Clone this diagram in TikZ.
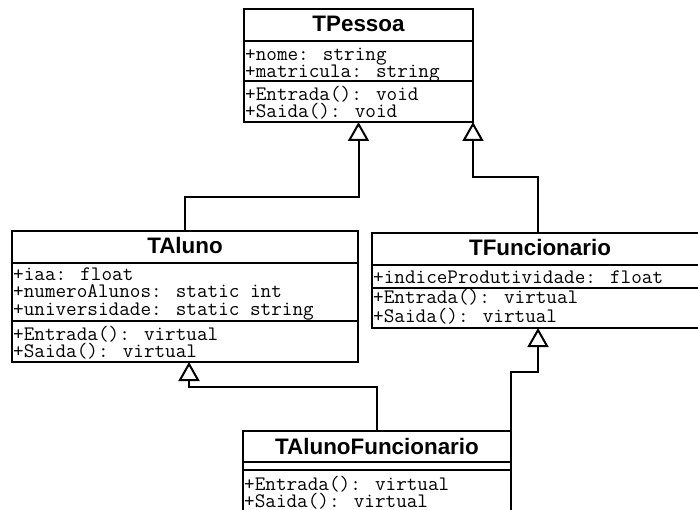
\documentclass[tikz,border=0pt]{standalone}
\usepackage{fontspec}
\newfontfamily\classfont{Liberation Sans}
\usetikzlibrary{arrows.meta}
\begin{document}
\begin{tikzpicture}[x=1pt,y=-1pt,
  classbox/.style={draw, line width=2pt, anchor=north west, inner sep=0pt, outer sep=0pt},
  divider/.style={line width=2pt},
  classname/.style={anchor=base, inner sep=0pt, font=\classfont\bfseries\fontsize{22.4}{26}\selectfont},
  member/.style={anchor=base west, inner sep=0pt, text height=12pt, text depth=2.5pt,
    font=\ttfamily\fontsize{20.6}{22}\selectfont},
  inherits/.style={line width=2pt, -{Triangle[open, length=19pt, width=21pt, fill=white]}}]
\clip (0,0) rectangle (698,510);

% TPessoa
\node[classbox, minimum width=229pt, minimum height=113pt] (pessoa) at (244,9) {};
\draw[divider] (pessoa.west |- 0,41) -- (pessoa.east |- 0,41);
\draw[divider] (pessoa.west |- 0,81) -- (pessoa.east |- 0,81);
\node[classname] (pessoaname) at (358.5,32) {TPessoa};
\node[member] (pessoaa1) at (245,61) {+nome: string};
\node[member] (pessoaa2) at (245,78) {+matricula: string};
\node[member] (pessoam1) at (245,101) {+Entrada(): void};
\node[member] (pessoam2) at (245,118) {+Saida(): void};

% TAluno
\node[classbox, minimum width=346pt, minimum height=131pt] (aluno) at (12,231) {};
\draw[divider] (aluno.west |- 0,263) -- (aluno.east |- 0,263);
\draw[divider] (aluno.west |- 0,321) -- (aluno.east |- 0,321);
\node[classname] (alunoname) at (185,254) {TAluno};
\node[member] (alunoa1) at (13,281) {+iaa: float};
\node[member] (alunoa2) at (13,298) {+numeroAlunos: static int};
\node[member] (alunoa3) at (13,316) {+universidade: static string};
\node[member] (alunom1) at (13,340) {+Entrada(): virtual};
\node[member] (alunom2) at (13,357) {+Saida(): virtual};

% TFuncionario
\node[classbox, minimum width=332pt, minimum height=95pt] (func) at (372,233) {};
\draw[divider] (func.west |- 0,265) -- (func.east |- 0,265);
\draw[divider] (func.west |- 0,288) -- (func.east |- 0,288);
\node[classname] (funcname) at (540,256) {TFuncionario};
\node[member] (funca1) at (373,284) {+indiceProdutividade: float};
\node[member] (funcm1) at (373,304) {+Entrada(): virtual};
\node[member] (funcm2) at (373,322) {+Saida(): virtual};

% TAlunoFuncionario
\node[classbox, minimum width=268pt, minimum height=90pt] (alunofunc) at (243,431) {};
\draw[divider] (alunofunc.west |- 0,462) -- (alunofunc.east |- 0,462);
\draw[divider] (alunofunc.west |- 0,470) -- (alunofunc.east |- 0,470);
\node[classname] (alunofuncname) at (377,454) {TAlunoFuncionario};
\node[member] (alunofuncm1) at (244,490) {+Entrada(): virtual};
\node[member] (alunofuncm2) at (244,507) {+Saida(): virtual};

% generalisations
\draw[inherits] (aluno.north) -- ++(0,-34) -| (pessoa.south);
\draw[inherits] (func.north) -- ++(0,-56) -| (pessoa.south east);
\draw[inherits] (alunofunc.north) -- ++(0,-44) -| ([xshift=4pt]aluno.south);
\draw[inherits] (alunofunc.north east) -- ++(0,-59) -| (func.south);
\end{tikzpicture}
\end{document}
